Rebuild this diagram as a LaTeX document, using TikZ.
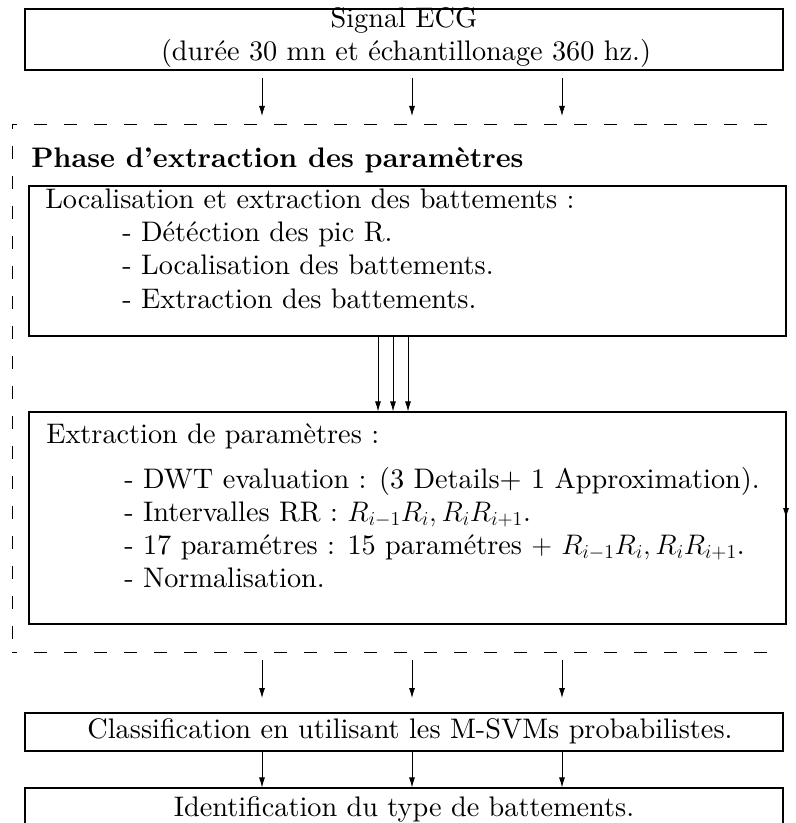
\RequirePackage{fix-cm}
\documentclass[tikz,border=0pt]{standalone}
\usepackage{fontspec}
\setmainfont{lmroman10-regular.otf}[BoldFont=lmroman10-bold.otf, ItalicFont=lmroman10-italic.otf]
\usetikzlibrary{arrows.meta,fit}
\begin{document}
\begin{tikzpicture}[x=0.75pt,y=-0.75pt,
  txt/.style={font=\fontsize{21.2}{25.5}\selectfont, inner sep=0pt, anchor=base west},
  ctxt/.style={txt, anchor=base},
  btxt/.style={txt, font=\fontsize{21.2}{25.5}\selectfont\bfseries},
  box/.style={draw, line width=0.85pt, inner sep=0pt},
  arr/.style={line width=0.6pt, -{Latex[length=7.5pt,width=4.5pt]}},
  frameline/.style={line width=0.6pt, dash pattern=on 9.75pt off 12.75pt, dash phase=6pt}]
\useasboundingbox (0,0) rectangle (795,823);
\clip (0,0) rectangle (795,823);

% boxes
\node[box, fit={(25,9) (783,70)}] (sig) {};
\node[box, fit={(29,186) (786,336)}] (loc) {};
\node[box, fit={(29,412) (786,624)}] (ext) {};
\node[box, fit={(25,713) (783,751)}] (cls) {};
\node[box, fit={(25,788) (783,828)}] (idn) {};

% texts
\node[ctxt] (sigA) at (404,28) {Signal ECG};
\node[ctxt] (sigB) at (406,61) {(durée 30 mn et échantillonage 360 hz.)};
\node[btxt] (phase) at (31,168) {Phase d’extraction des paramètres};
\node[txt] (locA) at (45,209) {Localisation et extraction des battements :};
\node[txt] (locB) at (122,242) {- Détéction des pic R.};
\node[txt] (locC) at (122,275) {- Localisation des battements.};
\node[txt] (locD) at (122,308) {- Extraction des battements.};
\node[txt] (extA) at (46,443) {Extraction de paramètres :};
\node[txt] (extB) at (124,488) {- DWT evaluation : (3 Details+ 1 Approximation).};
\node[txt] (extC) at (124,521) {- Intervalles RR : $R_{i-1}R_i, R_iR_{i+1}$.};
\node[txt] (extD) at (124,554) {- 17 paramétres : 15 paramétres $+$ $R_{i-1}R_i, R_iR_{i+1}$.};
\node[txt] (extE) at (124,587) {- Normalisation.};
\node[ctxt] (clsA) at (410,738) {Classification en utilisant les M-SVMs probabilistes.};
\node[ctxt] (idnA) at (404,816) {Identification du type de battements.};

% dashed frame
\coordinate (fTL) at (12,124);
\coordinate (fTR) at (776,124);
\coordinate (fBL) at (12,652);
\coordinate (fBR) at (776,652);
\draw[frameline] (fTL) -- (fTR);
\draw[frameline] (fTL) -- (fBL);
\draw[frameline] (fBL) -- (fBR);

% arrows signal -> frame, frame -> classification, classification -> identification
\foreach \i/\x in {1/262,2/412,3/562}{
  \coordinate (ts\i) at (\x,78);
  \coordinate (te\i) at (\x,116);
  \draw[arr] (ts\i) -- (te\i);
  \coordinate (bs\i) at (\x,660);
  \coordinate (be\i) at (\x,698);
  \draw[arr] (bs\i) -- (be\i);
  \coordinate (cx\i) at (\x,0);
  \draw[arr] (cls.south -| cx\i) -- (idn.north -| cx\i);
}
% arrows loc -> ext
\foreach \i/\x in {1/378,2/393,3/408}{
  \coordinate (mx\i) at (\x,0);
  \draw[arr] (loc.south -| mx\i) -- (ext.north -| mx\i);
}
% arrow on right edge of ext
\coordinate (rs) at (786,442);
\coordinate (re) at (786,518);
\draw[arr] (rs) -- (re);
\end{tikzpicture}
\end{document}
